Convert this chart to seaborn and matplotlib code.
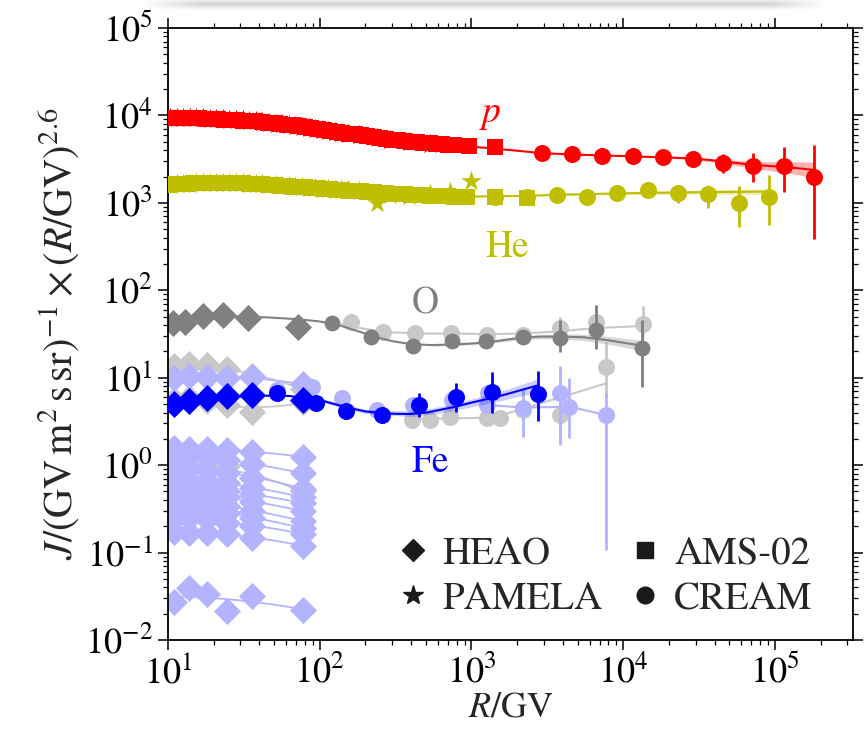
import numpy as np
import matplotlib
matplotlib.use("Agg")
import matplotlib.pyplot as plt
from matplotlib.lines import Line2D
from matplotlib.ticker import LogLocator, NullFormatter
import seaborn as sns

# ---------------------------------------------------------------- data
# Spectra multiplied by R^2.6, units (GV m^2 s sr)^-1 GV^2.6

# HEAO-3 rigidity bins (GV)
heao_R_O = [10.8, 12.9, 17.1, 23.1, 33.8, 71.6]
heao_R = [11.0, 13.8, 18.2, 24.3, 36.0, 77.0]

# AMS-02 rigidity bins (GV)
ams_R = [10.1, 11.1, 12.2, 13.4, 14.7, 16.1, 17.7, 19.5, 21.4, 23.5, 25.8, 28.4,
         31.2, 34.3, 37.7, 41.4, 45.5, 50.0, 55.0, 60.4, 66.4, 73.0, 80.2, 88.1,
         96.8, 106, 117, 129, 141, 155, 171, 188, 206, 227, 249, 274, 301, 330,
         363, 399, 439, 482, 530, 582, 640, 703, 773]
ams_p = [9333, 9311, 9290, 9268, 9247, 9226, 9141, 9078, 9016, 8954, 8892, 8810,
         8730, 8650, 8551, 8453, 8279, 8128, 7980, 7834, 7674, 7482, 7311, 7145,
         6966, 6823, 6653, 6486, 6353, 6209, 6053, 5916, 5781, 5636, 5508, 5395,
         5297, 5200, 5105, 5012, 4943, 4864, 4797, 4732, 4677, 4634, 4581]
ams_he = [1603, 1622, 1637, 1652, 1667, 1679, 1687, 1694, 1698, 1702, 1702, 1690,
          1675, 1660, 1648, 1633, 1614, 1596, 1578, 1560, 1538, 1521, 1503, 1486,
          1469, 1452, 1432, 1416, 1400, 1384, 1368, 1352, 1337, 1318, 1303, 1291,
          1279, 1268, 1256, 1245, 1233, 1225, 1213, 1205, 1194, 1186, 1178]
ams_hi_R_p = [964, 1430]
ams_hi_p = [4450, 4300]
ams_hi_R_he = [940, 1430, 2310]
ams_hi_he = [1175, 1175, 1130]

# PAMELA rigidity bins (GV)
pam_R = [10.3, 11.4, 12.6, 13.9, 15.4, 17.0, 18.8, 20.8, 23.0, 25.4, 28.1, 31.0,
         34.3, 37.9, 41.9, 46.3, 51.2, 56.6, 62.5, 69.1, 76.4, 84.4, 93.3, 103,
         114, 126, 139, 154, 181, 237, 290, 390, 530]
pam_p = [9400, 9380, 9360, 9340, 9300, 9250, 9180, 9100, 9030, 8960, 8880, 8790,
         8700, 8600, 8450, 8260, 8080, 7900, 7760, 7550, 7350, 7170, 6980, 6800,
         6620, 6460, 6300, 6150, 5900, 5450, 5250, 4950, 4700]
pam_R_he = pam_R + [720, 1000]
pam_he = [1607, 1627, 1642, 1658, 1673, 1684, 1691, 1697, 1701, 1702, 1692, 1676,
          1660, 1647, 1631, 1611, 1591, 1572, 1552, 1531, 1512, 1494, 1476, 1457,
          1438, 1420, 1403, 1385, 1358, 995, 1240, 1210, 1250, 1320, 1790]

# CREAM protons and helium
cream_R_p = [2900, 4570, 7280, 11530, 18200, 28700, 45600, 71900, 114800, 181500]
cream_p = [3690, 3590, 3460, 3460, 3350, 3180, 2840, 2640, 2640, 1990]
cream_p_lo = [3690, 3590, 3460, 3460, 3350, 3180, 2180, 1745, 1340, 386]
cream_p_hi = [3690, 3590, 3460, 3460, 3350, 3180, 3590, 3750, 4310, 4590]
cream_R_he = [1430, 2310, 3640, 5790, 9140, 14490, 23070, 36390, 57940, 91620]
cream_he = [1175, 1175, 1230, 1175, 1285, 1400, 1285, 1255, 990, 1160]
cream_he_lo = [1175, 1175, 1230, 1175, 1285, 1400, 990, 867, 533, 558]
cream_he_hi = [1175, 1175, 1230, 1175, 1285, 1400, 1530, 1600, 1560, 2085]

# oxygen
heao_O = [41.9, 43.7, 50.8, 52.2, 47.8, 38.4]
cream_R_O = [120, 217, 414, 741, 1245, 2190, 3820, 6600, 13300]
cream_O = [42.6, 29.0, 23.2, 26.3, 26.3, 29.4, 28.2, 35.2, 21.7]
cream_O_lo = [42.6, 29.0, 23.2, 26.3, 26.3, 27.0, 19.9, 21.1, 7.8]
cream_O_hi = [42.6, 29.0, 23.2, 26.3, 26.3, 32.0, 45.7, 67.9, 45.7]

# iron
heao_Fe = [5.00, 5.46, 5.82, 6.23, 6.34, 5.56]
cream_R_Fe = [52, 93.8, 149, 258, 453, 785, 1365, 2754]
cream_Fe = [6.64, 5.10, 4.16, 3.75, 4.88, 6.07, 6.92, 6.46]
cream_Fe_lo = [6.64, 5.10, 4.16, 3.75, 3.58, 4.08, 3.92, 3.22]
cream_Fe_hi = [6.64, 5.10, 4.16, 3.75, 6.64, 8.77, 11.7, 12.0]

# model curves and uncertainty bands
fit_R_p = [10, 20, 40, 70, 100, 200, 400, 700, 1000, 1400, 2000, 2900, 5000,
           10000, 15800, 19950, 28840, 36310, 45710, 57540, 71610, 91200,
           114800, 144500, 182000]
fit_p = [9330, 9060, 8550, 7720, 6950, 5820, 5010, 4634, 4400, 4180, 3950, 3700,
         3560, 3430, 3340, 3300, 3220, 3100, 2970, 2840, 2720, 2640, 2570, 2480, 2380]
band_R_p = [5000, 10000, 19950, 28840, 36310, 45710, 57540, 71610, 91200, 114800,
            144500, 182000]
band_p_lo = [3527, 3391, 3240, 3132, 2974, 2803, 2637, 2481, 2353, 2238, 2087, 1934]
band_p_hi = [3593, 3470, 3361, 3311, 3231, 3147, 3059, 2982, 2962, 2951, 2947, 2929]

fit_R_he = [10, 20, 30, 50, 100, 200, 400, 700, 1000, 1430, 2300, 3600, 5800, 9100,
            14500, 23000, 36000, 58000, 92000]
fit_he = [1603, 1694, 1683, 1596, 1462, 1343, 1245, 1189, 1180, 1189, 1202, 1236,
          1259, 1282, 1300, 1315, 1327, 1337, 1343]
band_R_he = [3600, 5800, 9100, 14500, 23000, 36000, 58000, 92000]
band_he_lo = [1213, 1230, 1245, 1253, 1256, 1257, 1254, 1244]
band_he_hi = [1259, 1288, 1321, 1349, 1377, 1401, 1425, 1450]

fit_R_O = [10, 14, 20, 30, 45, 70, 100, 130, 170, 230, 300, 400, 550, 750, 1000,
           1400, 2000, 2800, 3800, 5500, 8000, 11000, 13300]
fit_O = [43.8, 46.5, 49.0, 50.0, 49.0, 46.8, 44.0, 40.5, 35.0, 29.5, 26.2, 24.2,
         23.6, 24.0, 24.6, 26.0, 28.3, 29.5, 29.6, 29.0, 26.8, 24.5, 23.3]
band_R_O = [550, 750, 1000, 1400, 2000, 2800, 3800, 5500, 8000, 11000, 13300]
band_O_lo = [23.06, 23.35, 23.77, 25.0, 27.03, 27.85, 27.62, 26.62, 24.16, 21.68, 20.29]
band_O_hi = [24.15, 24.67, 25.46, 27.04, 29.63, 31.25, 31.72, 31.59, 29.73, 27.69, 26.75]

fit_R_Fe = [10, 15.8, 24.8, 39.8, 63.1, 100, 146.6, 199.5, 249.5, 316, 393.6, 501,
            616.6, 794, 977, 1259, 1542, 1995, 2742]
fit_Fe = [4.88, 5.56, 6.01, 6.24, 6.18, 5.56, 4.62, 4.12, 3.95, 3.86, 3.85, 3.98,
          4.28, 4.68, 5.14, 5.69, 6.18, 7.0, 8.17]
band_R_Fe = [100, 200, 400, 600, 800, 1000, 1300, 1600, 2000, 2742]
band_Fe_lo = [5.31, 3.89, 3.60, 3.92, 4.29, 4.65, 5.12, 5.51, 6.07, 6.87]
band_Fe_hi = [5.82, 4.36, 4.14, 4.61, 5.15, 5.71, 6.45, 7.09, 8.07, 9.71]

# other nuclei (HEAO), light blue
heao_other_blue = [
    [1.57, 1.55, 1.52, 1.50, 1.42, 1.25],
    [1.32, 1.30, 1.24, 1.15, 1.02, 0.81],
    [0.90, 0.93, 0.88, 0.82, 0.72, 0.54],
    [0.70, 0.68, 0.66, 0.62, 0.55, 0.43],
    [0.57, 0.58, 0.55, 0.50, 0.46, 0.37],
    [0.50, 0.48, 0.46, 0.43, 0.38, 0.30],
    [0.41, 0.40, 0.38, 0.34, 0.30, 0.23],
    [0.33, 0.32, 0.31, 0.28, 0.25, 0.19],
    [0.24, 0.25, 0.24, 0.22, 0.20, 0.165],
    [0.17, 0.168, 0.166, 0.165, 0.145, 0.12],
    [0.0274, 0.039, 0.0336, 0.0214, 0.0315, 0.0222],
    [9.8, 10.4, 10.2, 9.8, 10.1, 8.4],
]
# other nuclei (HEAO), light grey
heao_other_grey = [
    [0.93, 0.97, 0.95, 0.97, 0.71, 0.50],
    [13.5, 14.5, 14.0, 12.5, 10.5, 7.5],
    [5.6, 5.8, 5.4, 4.9, 4.1, 5.3],
]

# other nuclei (CREAM)
lb_R1 = [52, 88.5, 140, 237, 413, 740, 1288]
lb_J1 = [7.25, 7.89, 5.82, 4.28, 4.88, 5.56, 6.64]
lb_R2 = [1259, 2193, 4416, 7690]
lb_J2 = [4.88, 4.55, 4.66, 3.75]
lb_J2_lo = [4.88, 2.11, 2.03, 0.107]
lb_J2_hi = [4.88, 7.24, 9.84, 6.64]
lb_R3 = [3828]
lb_J3 = [6.64]
lb_J3_lo = [1.70]
lb_J3_hi = [13.6]

lg_R1 = [403, 533, 722, 1259, 1542, 2193, 3828, 7690]
lg_J1 = [3.28, 3.28, 3.58, 3.43, 3.43, 4.27, 3.75, 13.2]
lg_J1_lo = [3.28, 3.28, 3.58, 3.0, 3.43, 3.2, 1.9, 6.07]
lg_J1_hi = [3.28, 3.28, 3.58, 4.0, 3.43, 5.6, 5.8, 25.8]
lg_fit_R1 = [400, 1400, 7690]
lg_fit_J1 = [3.35, 3.5, 8.6]

lg_R_O = [160, 262, 425, 729, 1259, 2193, 3828, 6607, 13550]
lg_J_O = [43.8, 33.6, 32.2, 32.7, 30.8, 30.8, 37.3, 43.8, 40.8]
lg_J_O_lo = [43.8, 33.6, 32.2, 32.7, 30.8, 30.8, 30.0, 33.0, 29.0]
lg_J_O_hi = [43.8, 33.6, 32.2, 32.7, 30.8, 30.8, 49.0, 68.0, 66.0]
lg_fit_R_O = [140, 200, 300, 500, 800, 1300, 2200, 3800, 6600, 13500]
lg_fit_J_O = [41, 36, 33, 32, 32, 31.5, 32, 34, 37, 39]

labels = {"p": (1324, 8410), "He": (1714, 240), "O": (494, 53.6), "Fe": (534, 0.835)}

x_major = [1e1, 1e2, 1e3, 1e4, 1e5]
y_major = [1e-2, 1e-1, 1e0, 1e1, 1e2, 1e3, 1e4, 1e5]

# ---------------------------------------------------------------- style
RED, OLIVE, GREY, BLUE = "#ff0000", "#bfbf00", "#808080", "#0000ff"
LGREY, LBLUE = "#c8c8c8", "#b3b3ff"
S_DIAMOND, S_CIRCLE, S_SQUARE, S_STAR = 190, 150, 135, 240

sns.set_theme(style="ticks")
plt.rcParams.update({
    "font.family": ["STIXGeneral", "DejaVu Sans"],
    "mathtext.fontset": "stix",
    "axes.linewidth": 1.3,
    "xtick.direction": "out", "ytick.direction": "out",
    "xtick.top": True, "ytick.right": True,
    "xtick.major.size": 7, "ytick.major.size": 7,
    "xtick.minor.size": 3.5, "ytick.minor.size": 3.5,
    "xtick.major.width": 1.1, "ytick.major.width": 1.1,
    "xtick.minor.width": 0.9, "ytick.minor.width": 0.9,
    "xtick.color": "black", "ytick.color": "black",
    "axes.edgecolor": "black",
})

fig = plt.figure(figsize=(8.64, 7.35), dpi=100)
ax = fig.add_axes([168 / 864, 1 - 640 / 735, 685 / 864, 612 / 735])
ax.set_xscale("log")
ax.set_yscale("log")


def pts(R, J, marker, color, s, z):
    sns.scatterplot(x=R, y=J, marker=marker, s=s, color=color, linewidth=0,
                    ax=ax, zorder=z, legend=False)


def curve(R, J, color, lw, z):
    sns.lineplot(x=R, y=J, color=color, lw=lw, ax=ax, zorder=z, sort=False,
                 estimator=None, legend=False)


def bars(R, J, lo, hi, color, z, lw=2.0):
    J = np.asarray(J)
    yerr = [J - np.asarray(lo), np.asarray(hi) - J]
    ax.errorbar(R, J, yerr=yerr, fmt="none", ecolor=color, elinewidth=lw,
                capsize=0, zorder=z)


def heao_fit(R, J, color, z):
    lr, lj = np.log10(R), np.log10(J)
    c = np.polyfit(lr, lj, 2)
    grid = np.geomspace(10, 88, 40)
    curve(grid, 10 ** np.polyval(c, np.log10(grid)), color, 1.3, z)


# ---- other nuclei (background)
for vals in heao_other_grey:
    heao_fit(heao_R, vals, LGREY, 1.2)
    pts(heao_R, vals, "D", LGREY, S_DIAMOND, 1.3)
for vals in heao_other_blue:
    heao_fit(heao_R, vals, LBLUE, 1.4)
    pts(heao_R, vals, "D", LBLUE, S_DIAMOND, 1.5)

curve(lg_fit_R_O, lg_fit_J_O, LGREY, 1.5, 1.2)
bars(lg_R_O, lg_J_O, lg_J_O_lo, lg_J_O_hi, LGREY, 1.25)
pts(lg_R_O, lg_J_O, "o", LGREY, S_CIRCLE, 1.3)

curve(lg_fit_R1, lg_fit_J1, LGREY, 1.5, 1.2)
bars(lg_R1, lg_J1, lg_J1_lo, lg_J1_hi, LGREY, 1.25)
pts(lg_R1, lg_J1, "o", LGREY, S_CIRCLE, 1.3)

curve(lb_R2, lb_J2, LBLUE, 1.5, 1.4)
bars(lb_R2, lb_J2, lb_J2_lo, lb_J2_hi, LBLUE, 1.45)
pts(lb_R2, lb_J2, "o", LBLUE, S_CIRCLE, 1.5)
bars(lb_R3, lb_J3, lb_J3_lo, lb_J3_hi, LBLUE, 1.45)
pts(lb_R3, lb_J3, "o", LBLUE, S_CIRCLE, 1.5)
pts(lb_R1, lb_J1, "o", LBLUE, S_CIRCLE, 1.5)

# ---- oxygen
ax.fill_between(band_R_O, band_O_lo, band_O_hi, color=GREY, alpha=0.3, lw=0, zorder=2)
curve(fit_R_O, fit_O, GREY, 1.5, 2.1)
bars(cream_R_O, cream_O, cream_O_lo, cream_O_hi, GREY, 2.2)
pts(heao_R_O, heao_O, "D", GREY, S_DIAMOND, 2.3)
pts(cream_R_O, cream_O, "o", GREY, 130, 2.3)

# ---- iron
ax.fill_between(band_R_Fe, band_Fe_lo, band_Fe_hi, color=BLUE, alpha=0.2, lw=0, zorder=3)
curve(fit_R_Fe, fit_Fe, BLUE, 1.5, 3.1)
bars(cream_R_Fe, cream_Fe, cream_Fe_lo, cream_Fe_hi, BLUE, 3.2)
pts(heao_R, heao_Fe, "D", BLUE, S_DIAMOND, 3.3)
pts(cream_R_Fe, cream_Fe, "o", BLUE, S_CIRCLE, 3.3)

# ---- helium
ax.fill_between(band_R_he, band_he_lo, band_he_hi, color=OLIVE, alpha=0.3, lw=0, zorder=4)
curve(fit_R_he, fit_he, OLIVE, 1.5, 4.1)
bars(cream_R_he, cream_he, cream_he_lo, cream_he_hi, OLIVE, 4.2)
pts(pam_R_he, pam_he, "*", OLIVE, S_STAR, 4.3)
pts(ams_R + ams_hi_R_he, ams_he + ams_hi_he, "s", OLIVE, S_SQUARE, 4.3)
pts(cream_R_he, cream_he, "o", OLIVE, S_CIRCLE, 4.4)

# ---- protons
ax.fill_between(band_R_p, band_p_lo, band_p_hi, color=RED, alpha=0.3, lw=0, zorder=5)
curve(fit_R_p, fit_p, RED, 1.5, 5.1)
bars(cream_R_p, cream_p, cream_p_lo, cream_p_hi, RED, 5.2)
pts(pam_R, pam_p, "*", RED, S_STAR, 5.3)
pts(ams_R + ams_hi_R_p, ams_p + ams_hi_p, "s", RED, S_SQUARE, 5.3)
pts(cream_R_p, cream_p, "o", RED, S_CIRCLE, 5.4)

# ---- species labels
label_style = dict(fontsize=27, ha="center", va="baseline", zorder=6)
ax.text(*labels["p"], r"$p$", color=RED, **label_style)
ax.text(*labels["He"], "He", color=OLIVE, **label_style)
ax.text(*labels["O"], "O", color=GREY, **label_style)
ax.text(*labels["Fe"], "Fe", color=BLUE, **label_style)

# ---- axes
ax.set_xlim(10, 3.27e5)
ax.set_ylim(1e-2, 1e5)
ax.set_xticks(x_major)
ax.set_yticks(y_major)
for axis in (ax.xaxis, ax.yaxis):
    axis.set_minor_locator(LogLocator(base=10, subs=np.arange(2, 10), numticks=100))
    axis.set_minor_formatter(NullFormatter())
ax.tick_params(labelsize=26, pad=4)
ax.set_xlabel(r"$R/\mathrm{GV}$", fontsize=26, labelpad=0)
ax.set_ylabel(r"$J/(\mathrm{GV\,m^2\,s\,sr})^{-1}\times(R/\mathrm{GV})^{2.6}$",
              fontsize=29, labelpad=2)

handles = [
    Line2D([], [], marker="D", color="k", ls="none", markersize=11),
    Line2D([], [], marker="*", color="k", ls="none", markersize=15),
    Line2D([], [], marker="s", color="k", ls="none", markersize=11),
    Line2D([], [], marker="o", color="k", ls="none", markersize=12),
]
ax.legend(handles, ["HEAO", "PAMELA", "AMS-02", "CREAM"], ncol=2, loc="lower right",
          bbox_to_anchor=(0.975, 0.0), frameon=False, fontsize=28,
          handlelength=0.8, handletextpad=0.35, columnspacing=0.7,
          labelspacing=0.25, borderaxespad=0.2)

# soft shadow strip along the top edge
shadow = fig.add_axes([140 / 864, 1 - 16 / 735, 690 / 864, 16 / 735])
prof = np.exp(-((np.linspace(0, 16, 32) - 4.0) / 4.0) ** 2)[:, None]
edge = np.clip(np.minimum(np.linspace(0, 1, 200), np.linspace(1, 0, 200)) * 12, 0, 1)[None, :]
rgba = np.zeros((32, 200, 4))
rgba[..., :3] = 0.55
rgba[..., 3] = 0.35 * prof * edge
shadow.imshow(rgba, aspect="auto", interpolation="bilinear")
shadow.axis("off")

fig.savefig("out.png", dpi=100)
